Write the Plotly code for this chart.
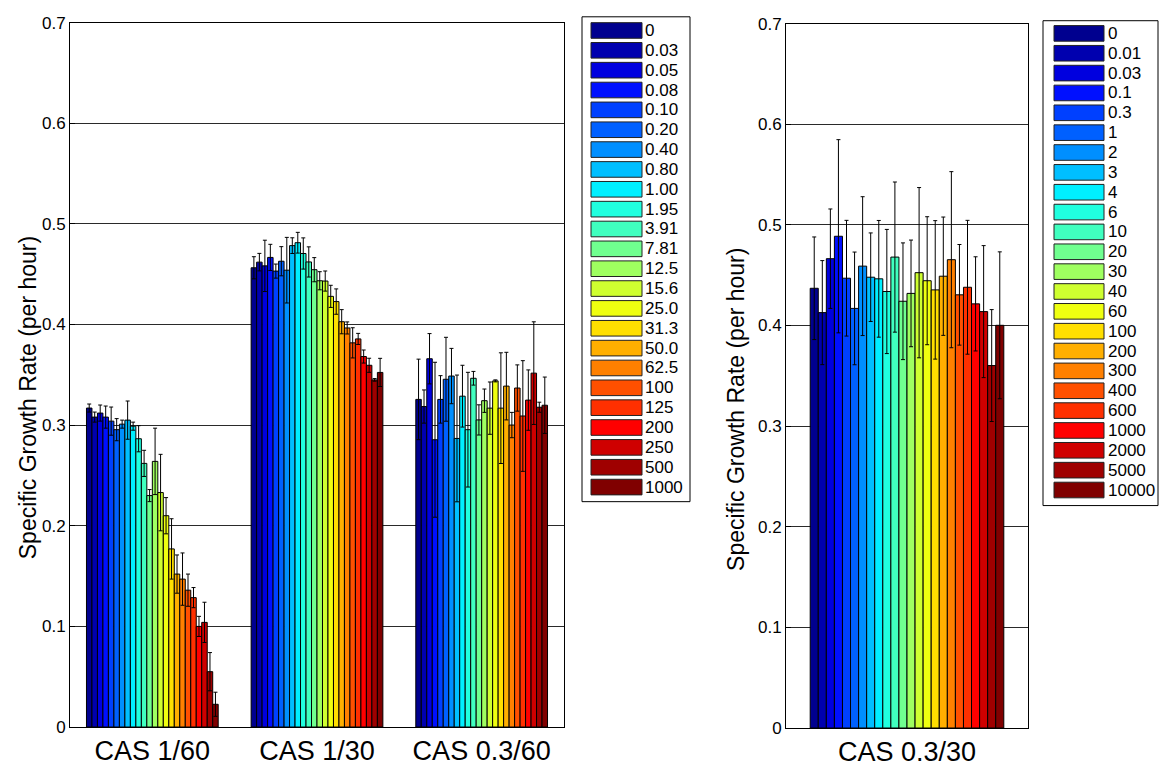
import plotly.graph_objects as go

W, H = 1162, 778

groups_left = ["CAS 1/60", "CAS 1/30", "CAS 0.3/60"]
group_right = ["CAS 0.3/30"]

labels_left = ["0", "0.03", "0.05", "0.08", "0.10", "0.20", "0.40", "0.80", "1.00", "1.95",
               "3.91", "7.81", "12.5", "15.6", "25.0", "31.3", "50.0", "62.5", "100", "125",
               "200", "250", "500", "1000"]
labels_right = ["0", "0.01", "0.03", "0.1", "0.3", "1", "2", "3", "4", "6", "10", "20", "30",
                "40", "60", "100", "200", "300", "400", "600", "1000", "2000", "5000", "10000"]

colors = ["#00008F", "#0000AF", "#0000DF", "#0010FF", "#0040FF", "#0060FF", "#008FFF", "#00BFFF",
          "#00EFFF", "#20FFDF", "#40FFBF", "#70FF8F", "#9FFF60", "#CFFF30", "#EFFF10", "#FFDF00",
          "#FFAF00", "#FF8000", "#FF5000", "#FF3000", "#FF0000", "#CF0000", "#9F0000", "#800000"]

cas_1_60 = [0.317, 0.308, 0.312, 0.308, 0.304, 0.2955, 0.301, 0.305, 0.299, 0.2865, 0.262, 0.230,
            0.264, 0.233, 0.210, 0.177, 0.152, 0.147, 0.136, 0.1286, 0.100, 0.104, 0.055, 0.0226]
cas_1_60_err = [0.004, 0.005, 0.008, 0.011, 0.014, 0.011, 0.004, 0.019, 0.004, 0.013, 0.013, 0.006,
                0.033, 0.038, 0.018, 0.030, 0.019, 0.026, 0.016, 0.010, 0.010, 0.020, 0.019, 0.012]

cas_1_30 = [0.4564, 0.462, 0.4583, 0.4667, 0.4531, 0.4629, 0.454, 0.4784, 0.4813, 0.4706, 0.4622,
            0.4545, 0.4435, 0.4432, 0.428, 0.4228, 0.4028, 0.3966, 0.3818, 0.3857, 0.3682, 0.3595,
            0.345, 0.3524]
cas_1_30_err = [0.011, 0.0087, 0.0255, 0.013, 0.007, 0.0145, 0.0326, 0.0078, 0.0103, 0.0155, 0.015,
                0.012, 0.009, 0.010, 0.011, 0.0126, 0.012, 0.006, 0.015, 0.0055, 0.0065, 0.007,
                0.0013, 0.014]

cas_03_60 = [0.3256, 0.3185, 0.366, 0.2855, 0.3256, 0.3456, 0.3488, 0.2868, 0.3288, 0.2955, 0.3466,
             0.3052, 0.3243, 0.3169, 0.344, 0.3169, 0.3388, 0.3001, 0.3369, 0.3091, 0.3249, 0.3517,
             0.3178, 0.3198]
cas_03_60_err = [0.040, 0.0165, 0.025, 0.077, 0.0236, 0.0417, 0.0275, 0.063, 0.0307, 0.057, 0.0068,
                 0.015, 0.0116, 0.026, 0.001, 0.055, 0.0336, 0.0126, 0.023, 0.055, 0.030, 0.051,
                 0.005, 0.028]

cas_03_30 = [0.437, 0.4128, 0.4664, 0.4887, 0.447, 0.417, 0.459, 0.448, 0.4464, 0.4338, 0.468,
             0.4241, 0.4319, 0.4525, 0.4445, 0.4354, 0.449, 0.4654, 0.4305, 0.438, 0.4215, 0.4138,
             0.3602, 0.4002]
cas_03_30_err = [0.051, 0.0517, 0.0494, 0.096, 0.0575, 0.056, 0.069, 0.044, 0.058, 0.0617, 0.0746,
                 0.058, 0.053, 0.0846, 0.0636, 0.0688, 0.0588, 0.0875, 0.050, 0.0665, 0.0468,
                 0.0656, 0.0556, 0.073]

FONT = "Liberation Sans, Arial, Helvetica, sans-serif"

fig = go.Figure()

for i in range(24):
    fig.add_trace(go.Bar(
        x=groups_left,
        y=[cas_1_60[i], cas_1_30[i], cas_03_60[i]],
        error_y=dict(type="data", array=[cas_1_60_err[i], cas_1_30_err[i], cas_03_60_err[i]],
                     color="black", thickness=1, width=2),
        marker=dict(color=colors[i], line=dict(color="black", width=1)),
        name=labels_left[i], showlegend=False, xaxis="x", yaxis="y",
    ))
    fig.add_trace(go.Bar(
        x=group_right,
        y=[cas_03_30[i]],
        error_y=dict(type="data", array=[cas_03_30_err[i]],
                     color="black", thickness=1, width=2),
        marker=dict(color=colors[i], line=dict(color="black", width=1)),
        name=labels_right[i], showlegend=False, xaxis="x2", yaxis="y2",
    ))


def px(x):
    return x / W


def py(y):
    return 1 - y / H


yaxis_common = dict(range=[0, 0.7], dtick=0.1, tick0=0, showgrid=True, gridcolor="#2a2a2a",
                    gridwidth=1, showline=True, linecolor="black", linewidth=1, mirror=True,
                    ticks="inside", ticklen=5, tickcolor="black", zeroline=False,
                    tickfont=dict(size=17, color="black", family=FONT))
xaxis_common = dict(type="category", showline=True, linecolor="black", linewidth=1, mirror=True,
                    ticks="", showgrid=False, zeroline=False,
                    tickfont=dict(size=27, color="black", family=FONT))

fig.update_layout(
    width=W, height=H,
    margin=dict(l=0, r=0, t=0, b=0),
    paper_bgcolor="white", plot_bgcolor="white",
    barmode="group", bargap=0.2, bargroupgap=0,
    showlegend=False,
    font=dict(family=FONT, color="black"),
    xaxis=dict(domain=[px(70), px(564)], range=[-0.5, 2.5], anchor="y", **xaxis_common),
    yaxis=dict(domain=[py(736), py(14)], anchor="x", **yaxis_common),
    xaxis2=dict(domain=[px(786), px(1028)], range=[-0.5, 0.5], anchor="y2", **xaxis_common),
    yaxis2=dict(domain=[py(737), py(15)], anchor="x2", **yaxis_common),
)

annotations = [
    dict(text="Specific Growth Rate (per hour)", x=px(28), y=py(399), xref="paper", yref="paper",
         xanchor="center", yanchor="middle",
         textangle=-90, showarrow=False, font=dict(size=23, color="black", family=FONT)),
    dict(text="Specific Growth Rate (per hour)", x=px(736), y=py(411), xref="paper", yref="paper",
         xanchor="center", yanchor="middle",
         textangle=-90, showarrow=False, font=dict(size=23, color="black", family=FONT)),
]
shapes = []


def add_legend(labels, box, sw_x0, sw_x1, text_x, first_c, pitch):
    x0, y0, x1, y1 = box
    shapes.append(dict(type="rect", xref="paper", yref="paper", x0=px(x0), x1=px(x1),
                       y0=py(y1), y1=py(y0), line=dict(color="black", width=1),
                       fillcolor="white", layer="above"))
    for i, lab in enumerate(labels):
        c = first_c + i * pitch
        shapes.append(dict(type="rect", xref="paper", yref="paper", x0=px(sw_x0), x1=px(sw_x1),
                           y0=py(c + 8), y1=py(c - 8), line=dict(color="#222222", width=1),
                           fillcolor=colors[i], layer="above"))
        annotations.append(dict(text=lab, x=px(text_x), y=py(c), xref="paper", yref="paper",
                                xanchor="left", yanchor="middle", showarrow=False,
                                font=dict(size=17, color="black", family=FONT)))


add_legend(labels_left, (582, 8, 690, 505), 591, 642, 643, 22.0, 20.35)
add_legend(labels_right, (1043, 12, 1158, 509), 1054, 1104, 1106, 25.0, 20.35)

fig.update_layout(annotations=annotations, shapes=shapes)

fig.write_html("out.html")
